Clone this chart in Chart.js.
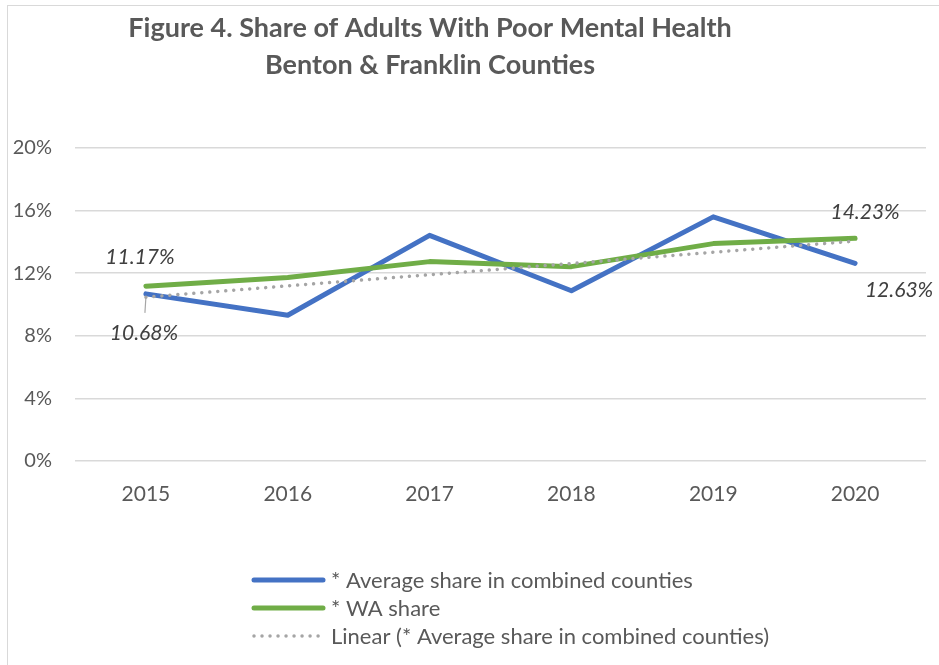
<!DOCTYPE html>
<html><head><meta charset="utf-8">
<script src="https://cdn.jsdelivr.net/npm/chart.js@4/dist/chart.umd.min.js"></script>
<style>
html,body{margin:0;padding:0;background:#fff;}
#wrap{position:relative;width:939px;height:665px;overflow:hidden;}
#frame{position:absolute;left:7px;top:5px;width:940px;height:670px;border:1.5px solid #d9d9d9;box-sizing:border-box;pointer-events:none;}
canvas{position:absolute;left:0;top:0;}
</style></head>
<body><div id="wrap"><canvas id="c" width="939" height="665"></canvas><div id="frame"></div></div>
<script>
const titleLines = ["Figure 4. Share of Adults With Poor Mental Health", "Benton & Franklin Counties"];
const years = ["2015","2016","2017","2018","2019","2020"];
const combinedShare = [10.68, 9.31, 14.42, 10.88, 15.6, 12.63];
const waShare = [11.17, 11.72, 12.74, 12.42, 13.89, 14.23];
const linearTrend = [10.47, 11.19, 11.9, 12.62, 13.34, 14.05];
const seriesNames = ["* Average share in combined counties", "* WA share", "Linear (* Average share in combined counties)"];
const yTicks = [0, 4, 8, 12, 16, 20];
const FONT = "Lato, 'Liberation Sans', sans-serif";

const overlay = {
  id: 'overlay',
  afterDraw(chart) {
    const ctx = chart.ctx;
    ctx.save();
    // title
    ctx.fillStyle = '#595959';
    ctx.font = "bold 27px " + FONT;
    ctx.textAlign = 'center';
    ctx.textBaseline = 'middle';
    ctx.fillText(titleLines[0], 430, 28);
    ctx.fillText(titleLines[1], 430, 65);

    // data labels
    const b = chart.getDatasetMeta(0).data;
    const g = chart.getDatasetMeta(1).data;
    ctx.font = "italic 21px " + FONT;
    ctx.fillStyle = '#404040';
    const last = years.length - 1;
    ctx.fillText(waShare[0].toFixed(2) + '%', g[0].x - 6, g[0].y - 29);
    ctx.fillText(combinedShare[0].toFixed(2) + '%', b[0].x - 2, b[0].y + 39);
    ctx.fillText(waShare[last].toFixed(2) + '%', g[last].x + 10, g[last].y - 26);
    ctx.fillText(combinedShare[last].toFixed(2) + '%', b[last].x + 44, b[last].y + 27);
    // leader line
    ctx.strokeStyle = '#a6a6a6';
    ctx.lineWidth = 1.2;
    ctx.beginPath();
    ctx.moveTo(b[0].x - 1, b[0].y + 19);
    ctx.lineTo(b[0].x, b[0].y + 3);
    ctx.stroke();

    // legend
    const rows = [580, 608, 636];
    chart.data.datasets.forEach((ds, i) => {
      const y = rows[i];
      ctx.strokeStyle = ds.borderColor;
      ctx.lineWidth = ds.borderWidth;
      ctx.lineCap = 'round';
      ctx.setLineDash(ds.borderDash || []);
      ctx.beginPath();
      ctx.moveTo(254, y);
      ctx.lineTo(323, y);
      ctx.stroke();
      ctx.setLineDash([]);
      ctx.fillStyle = '#595959';
      ctx.font = "22px " + FONT;
      ctx.textAlign = 'left';
      ctx.fillText(ds.label, 331, y + 1);
    });
    ctx.restore();
  }
};

new Chart(document.getElementById('c'), {
  type: 'line',
  data: {
    labels: years,
    datasets: [
      { label: seriesNames[0], data: combinedShare, borderColor: '#4472C4', borderWidth: 5, pointRadius: 0, tension: 0, order: 3, borderJoinStyle: 'round', borderCapStyle: 'round' },
      { label: seriesNames[1], data: waShare, borderColor: '#70AD47', borderWidth: 5, pointRadius: 0, tension: 0, order: 2, borderJoinStyle: 'round', borderCapStyle: 'round' },
      { label: seriesNames[2], data: linearTrend, borderColor: '#A5A5A5', borderWidth: 3.5, borderDash: [0.01, 8], borderCapStyle: 'round', pointRadius: 0, tension: 0, order: 1 }
    ]
  },
  options: {
    responsive: false,
    animation: false,
    devicePixelRatio: 1,
    layout: { padding: { top: 148, right: 13, left: 0, bottom: 0 } },
    plugins: { legend: { display: false }, title: { display: false }, tooltip: { enabled: false } },
    scales: {
      x: {
        offset: true,
        grid: { display: false, drawTicks: false },
        border: { display: false },
        ticks: { color: '#595959', font: { family: FONT, size: 21 }, padding: 21 },
        afterFit(s) { s.height = 665 - 461; }
      },
      y: {
        min: 0, max: 20,
        afterBuildTicks(s) { s.ticks = yTicks.map(v => ({ value: v })); },
        grid: { color: '#d9d9d9', lineWidth: 1.5, drawTicks: false },
        border: { display: false },
        ticks: { color: '#595959', font: { family: FONT, size: 20 }, padding: 23, callback: v => v + '%' },
        afterFit(s) { s.width = 75; }
      }
    }
  },
  plugins: [overlay]
});
</script></body></html>
